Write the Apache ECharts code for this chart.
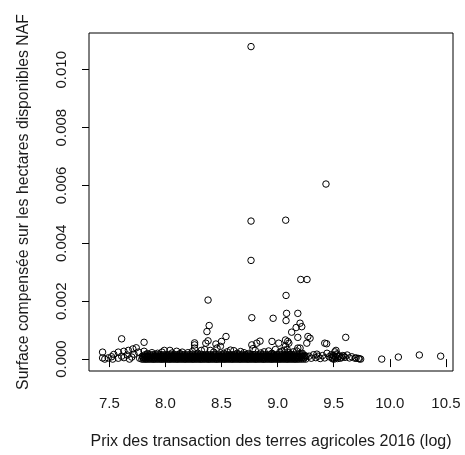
<!DOCTYPE html>
<html>
<head>
<meta charset="utf-8">
<script src="https://cdn.jsdelivr.net/npm/echarts@6/dist/echarts.min.js"></script>
<style>
html,body{margin:0;padding:0;background:#fff;}
#chart{width:465px;height:455px;}
</style>
</head>
<body>
<div id="chart"></div>
<script>
// ---- data ----
const xTicks = [7.5, 8.0, 8.5, 9.0, 9.5, 10.0, 10.5];
const yTicks = [0, 0.002, 0.004, 0.006, 0.008, 0.010];
const xTitle = "Prix des transaction des terres agricoles 2016 (log)";
const yTitle = "Surface compensée sur les hectares disponibles NAF";

// isolated high points [x, y]
const highPoints = [
  [8.763,0.0108],[9.431,0.00605],[8.763,0.00477],[9.072,0.0048],[8.763,0.00341],
  [9.206,0.00275],[9.262,0.00275],[9.075,0.0022],[8.38,0.00204],[8.77,0.00143],
  [8.96,0.00141],[9.08,0.00158],[9.18,0.00158],[9.075,0.00133],[8.39,0.00116],
  [8.37,0.00095],[9.2,0.00124],[9.215,0.00112],[9.165,0.00109],[9.125,0.00093],
  [8.54,0.00078],[9.27,0.00078],[9.18,0.00075],[7.61,0.0007],[7.81,0.00058],
  [8.5,0.00061],[9.607,0.00075],[9.437,0.00053],[9.289,0.00072],[9.26,0.00055],
  [8.843,0.00062],[8.814,0.00055],[8.77,0.00049],[8.95,0.00061],[9.01,0.00055],
  [8.26,0.00056],[8.38,0.00063],[8.36,0.00055],[9.2,0.00038],[9.52,0.0003],
  [9.07,0.00066],[9.09,0.00061],[8.26,0.00049],[9.1,0.00055],[9.42,0.00055]
];

// scattered low points [x, y]
const lowPoints = [
  [7.44,0.00024],[7.44,0.00004],[7.46,0],[7.49,0.00004],[7.54,0.00016],[7.53,0],
  [7.58,0.00024],[7.58,0.00003],[7.63,0.00027],[7.61,0.0001],[7.67,0.0003],
  [7.66,0.00014],[7.68,0],[7.71,0.00035],[7.72,0.00017],[7.74,0.00039],[7.76,0.00024],
  [7.77,0.00003],[7.81,0.00027],[7.52,0.00008],[7.63,0.00005],[7.70,0.00007],
  [7.99,0.0003],[8.04,0.0003],[8.10,0.00027],[8.15,0.00024],[8.26,0.00038],
  [8.45,0.00052],[8.46,0.00038],[8.49,0.00044],[8.61,0.00029],[9.07,0.00044],
  [9.085,0.00033],[9.11,0.00017],[9.18,0.00038],[9.35,0.00017],[7.88,0.00022],
  [7.93,0.0002],[8.2,0.00022],[8.32,0.0003],[8.4,0.0003],[8.55,0.00025],[8.7,0.00022],
  [8.8,0.0003],[8.88,0.00025],[8.98,0.00033],[9.04,0.00028],[9.14,0.00025],[9.22,0.0002],
  [7.84,0.00019],[7.97,0.00024],[8.06,0.00021],[8.13,0.00019],[8.24,0.00026],[8.29,0.0002],
  [8.35,0.00033],[8.43,0.00024],[8.52,0.0002],[8.58,0.00031],[8.64,0.0002],[8.67,0.00026],
  [8.74,0.00019],[8.78,0.00036],[8.85,0.00021],[8.92,0.00028],[8.95,0.0002],[9.02,0.00024],
  [9.06,0.00031],[9.1,0.00022],[9.17,0.00028],[9.24,0.00012]
];

// sparse right tail [x, y]
const tailPoints = [
  [9.28,0.0001],[9.30,0.00003],[9.32,0.00015],[9.34,0.00005],[9.36,0.0001],
  [9.38,0.00002],[9.40,0.00012],[9.42,0.00004],[9.44,0.0002],[9.46,0.00008],
  [9.48,0.00015],[9.49,0.00001],[9.50,0.0001],[9.51,0.00025],[9.52,0.00005],
  [9.53,0.00018],[9.55,0.0001],[9.56,0.00003],[9.58,0.00012],[9.60,0.00006],
  [9.62,0.00014],[9.64,0.00004],[9.66,0.00008],[9.69,0.00003],[9.72,0.00002],
  [9.74,0],[9.485,0.00005],[9.495,0.00012],[9.505,0.0],[9.515,0.00008],
  [9.525,0.00014],[9.535,0.00002],[9.545,0.00009],[9.57,0.00006],[9.59,0.0001],
  [9.70,0.00004],[9.728,0.00001],[9.928,0],[10.076,0.00007],[10.263,0.00014],[10.453,0.0001]
];

// dense band near zero: y level of each row, and x values of each row
const bandRowY = [0.00000, 0.00005, 0.00010, 0.00015];
const bandRowX = [
  [7.79,7.805,7.82,7.83,7.845,7.86,7.875,7.89,7.9,7.915,7.93,7.945,7.96,7.97,7.985,8.0,8.015,8.03,8.04,8.055,8.07,8.085,8.1,8.11,8.125,8.14,8.155,8.17,8.18,8.195,8.21,8.225,8.24,8.25,8.265,8.28,8.295,8.31,8.32,8.335,8.35,8.365,8.38,8.39,8.405,8.42,8.435,8.45,8.46,8.475,8.49,8.505,8.52,8.53,8.545,8.56,8.575,8.59,8.6,8.615,8.63,8.645,8.66,8.67,8.685,8.7,8.715,8.73,8.74,8.755,8.77,8.785,8.8,8.81,8.825,8.84,8.855,8.87,8.88,8.895,8.91,8.925,8.94,8.95,8.965,8.98,8.995,9.01,9.02,9.035,9.05,9.065,9.08,9.09,9.105,9.12,9.135,9.15,9.16,9.175,9.19,9.21,9.23,9.25],
  [7.8,7.815,7.835,7.85,7.865,7.88,7.9,7.91,7.925,7.94,7.955,7.975,7.99,8.005,8.02,8.035,8.05,8.065,8.08,8.095,8.115,8.13,8.145,8.16,8.175,8.19,8.205,8.22,8.235,8.255,8.27,8.285,8.3,8.315,8.33,8.345,8.36,8.375,8.395,8.41,8.425,8.44,8.455,8.47,8.485,8.5,8.515,8.535,8.55,8.565,8.58,8.595,8.61,8.625,8.64,8.655,8.675,8.69,8.705,8.72,8.735,8.75,8.765,8.78,8.795,8.815,8.83,8.845,8.86,8.875,8.89,8.905,8.92,8.935,8.955,8.97,8.985,9.0,9.015,9.03,9.045,9.06,9.075,9.095,9.11,9.125,9.14,9.155,9.17,9.185,9.2,9.22,9.24],
  [7.795,7.81,7.83,7.845,7.87,7.885,7.905,7.92,7.94,7.96,7.98,7.995,8.01,8.025,8.045,8.06,8.075,8.09,8.105,8.12,8.135,8.15,8.165,8.185,8.2,8.215,8.23,8.245,8.26,8.275,8.29,8.305,8.325,8.34,8.355,8.37,8.385,8.4,8.415,8.43,8.445,8.465,8.48,8.495,8.51,8.525,8.54,8.555,8.57,8.585,8.605,8.62,8.635,8.65,8.665,8.68,8.695,8.71,8.725,8.745,8.76,8.775,8.79,8.805,8.82,8.835,8.85,8.865,8.885,8.9,8.915,8.93,8.945,8.96,8.975,8.99,9.005,9.025,9.04,9.055,9.07,9.085,9.1,9.115,9.13,9.145,9.165,9.18,9.195,9.215,9.235,9.255],
  [7.82,7.84,7.865,7.89,7.91,7.935,7.96,7.985,8.01,8.03,8.055,8.08,8.1,8.125,8.15,8.17,8.195,8.22,8.24,8.265,8.29,8.31,8.335,8.36,8.38,8.405,8.43,8.45,8.475,8.5,8.52,8.545,8.57,8.59,8.615,8.64,8.66,8.685,8.71,8.73,8.755,8.78,8.8,8.825,8.85,8.87,8.895,8.92,8.94,8.965,8.99,9.01,9.035,9.06,9.08,9.105,9.13,9.15,9.175,9.2,9.225]
];

// ---- build ----
const bandPoints = [];
bandRowX.forEach(function (row, i) {
  row.forEach(function (x) { bandPoints.push([x, bandRowY[i]]); });
});
const allPoints = bandPoints.concat(lowPoints, tailPoints, highPoints);

const chart = echarts.init(document.getElementById('chart'), null, {renderer: 'canvas'});
const fontFam = '"Liberation Sans", Arial, sans-serif';
chart.setOption({
  animation: false,
  backgroundColor: '#fff',
  grid: {
    left: 89, right: 12, top: 33, bottom: 82,
    show: true, borderColor: '#000', borderWidth: 1, backgroundColor: 'transparent'
  },
  xAxis: {
    type: 'value',
    min: 7.319, max: 10.563,
    splitLine: {show: false},
    axisLine: {show: false},
    axisTick: {show: true, length: 8, inside: false, customValues: xTicks,
               lineStyle: {color: '#000', width: 1}},
    axisLabel: {customValues: xTicks, margin: 25, color: '#1a1a1a',
                fontFamily: fontFam, fontSize: 15,
                formatter: function (v) { return v.toFixed(1); }},
    name: xTitle, nameLocation: 'middle', nameGap: 63,
    nameTextStyle: {color: '#1a1a1a', fontFamily: fontFam, fontSize: 16}
  },
  yAxis: {
    type: 'value',
    min: -0.000412, max: 0.01127,
    splitLine: {show: false},
    axisLine: {show: false},
    axisTick: {show: true, length: 7, inside: false, customValues: yTicks,
               lineStyle: {color: '#000', width: 1}},
    axisLabel: {customValues: yTicks, margin: 20, rotate: 90, color: '#1a1a1a',
                fontFamily: fontFam, fontSize: 15,
                formatter: function (v) { return v.toFixed(3); }},
    name: yTitle, nameLocation: 'middle', nameGap: 57, nameRotate: 90,
    nameTextStyle: {color: '#1a1a1a', fontFamily: fontFam, fontSize: 15.8}
  },
  series: [{
    type: 'scatter',
    data: allPoints,
    symbol: 'circle',
    symbolSize: 6.5,
    silent: true,
    large: false,
    progressive: 0,
    itemStyle: {color: 'rgba(0,0,0,0)', borderColor: '#000', borderWidth: 1, opacity: 1},
    emphasis: {disabled: true}
  }]
});
</script>
</body>
</html>
